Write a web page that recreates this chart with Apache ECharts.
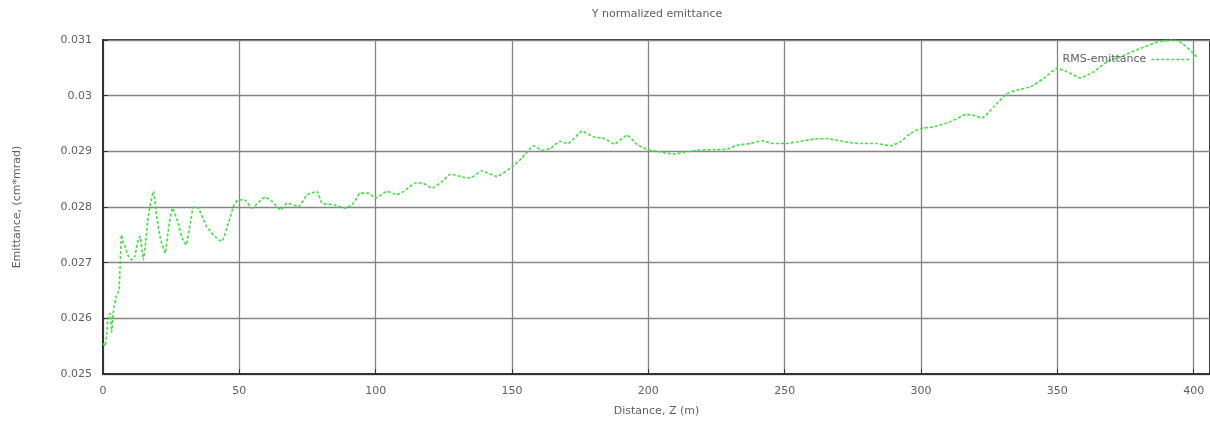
<!DOCTYPE html>
<html>
<head>
<meta charset="utf-8">
<script src="https://cdn.jsdelivr.net/npm/echarts@6/dist/echarts.min.js"></script>
<style>
html,body{margin:0;padding:0;background:#fff;}
#chart{width:1210px;height:423px;}
</style>
</head>
<body>
<div id="chart"></div>
<script>
const titleText = 'Y normalized emittance';
const seriesName = 'RMS-emittance';
const xName = 'Distance, Z (m)';
const yName = 'Emittance, (cm*mrad)';

const distance = [
  0, 0.7, 1.3, 1.9, 2.6, 3.2, 3.8, 4.9, 5.9, 6.8, 7.5, 8.1, 9.3, 10.5, 11.7, 12.9, 13.6, 14.8, 15.7, 16.6,
  18.5, 19.7, 21.0, 22.8, 24.0, 25.5, 27.6, 29.0, 30.5, 32.0, 33.2, 35.0, 38.0, 41.1, 43.5, 46.0, 47.8, 49.6,
  52.2, 54.7, 57.0, 59.5, 62.0, 65.2, 67.5, 71.8, 74.8, 78.5, 80.3, 84.6, 88.9, 91.9, 94.4, 97.4, 99.9,
  104.2, 107.8, 110.3, 114.6, 117.0, 120.7, 124.4, 127.4, 131.7, 134.7, 139.0, 144.5, 150.0, 153.7, 158.0,
  161.0, 164.1, 167.5, 170.5, 175.7, 180.0, 184.0, 187.6, 192.2, 196.0, 199.8, 204.5, 209.5, 213.0, 218.0,
  224.0, 229.0, 232.6, 237.5, 241.7, 246.0, 250.3, 254.6, 260.7, 265.6, 269.3, 273.5, 277.8, 283.9, 288.8,
  292.5, 296.1, 299.8, 304.7, 310.8, 316.5, 319.0, 322.4, 326.7, 331.6, 335.3, 340.2, 345.0, 350.0, 353.6,
  358.5, 363.4, 368.3, 373.2, 380.5, 387.9, 392.8, 395.8, 400.0, 401.5
];
const emittance = [
  0.02555, 0.02550, 0.02567, 0.02600, 0.02609, 0.02575, 0.02612, 0.02640, 0.02651, 0.02750, 0.02735, 0.02729, 0.02712, 0.02705, 0.02712, 0.02741, 0.02747, 0.02705, 0.02740, 0.02783,
  0.02828, 0.02783, 0.02745, 0.02717, 0.02760, 0.02798, 0.02771, 0.02745, 0.02732, 0.02770, 0.02800, 0.02798, 0.02765, 0.02747, 0.02738, 0.02771, 0.02800, 0.02813,
  0.02812, 0.02798, 0.02808, 0.02818, 0.02810, 0.02795, 0.02807, 0.02801, 0.02822, 0.02828, 0.02807, 0.02804, 0.02798, 0.02807, 0.02825, 0.02825, 0.02816,
  0.02828, 0.02822, 0.02828, 0.02843, 0.02843, 0.02834, 0.02846, 0.02859, 0.02854, 0.02852, 0.02865, 0.02855, 0.02872, 0.02888, 0.02910,
  0.02902, 0.02905, 0.02918, 0.02914, 0.02936, 0.02926, 0.02923, 0.02913, 0.02929, 0.02912, 0.02903, 0.02899, 0.02895, 0.02898, 0.02902,
  0.02903, 0.02904, 0.02911, 0.02914, 0.02919, 0.02914, 0.02914, 0.02917, 0.02922, 0.02923, 0.02920, 0.02916, 0.02914, 0.02914, 0.02910,
  0.02917, 0.02932, 0.02941, 0.02944, 0.02953, 0.02966, 0.02965, 0.02960, 0.02980, 0.03004, 0.03010, 0.03016, 0.03031, 0.03049, 0.03043,
  0.03032, 0.03043, 0.03061, 0.03070, 0.03085, 0.03098, 0.03100, 0.03094, 0.03076, 0.03067
];

const points = distance.map((d, i) => [d, emittance[i]]);
const font = 'DejaVu Sans, Liberation Sans, sans-serif';
const txt = '#606060';
const green = '#3ee23e';

const chart = echarts.init(document.getElementById('chart'), null, {renderer: 'canvas'});
chart.setOption({
  animation: false,
  backgroundColor: '#fff',
  title: {
    text: titleText, left: 652, top: 4, textAlign: 'center',
    textStyle: {fontFamily: font, fontSize: 11, fontWeight: 'normal', color: txt}
  },
  legend: {
    right: 15, top: 49, align: 'right', itemWidth: 38, itemHeight: 8, itemGap: 4,
    textStyle: {fontFamily: font, fontSize: 11, color: txt},
    itemStyle: {opacity: 0},
    lineStyle: {color: green, width: 1.3, type: [3, 2]},
    data: [seriesName]
  },
  grid: {
    left: 103, right: 0, top: 40, bottom: 49,
    show: true, borderColor: '#333', borderWidth: 2, backgroundColor: 'transparent'
  },
  xAxis: {
    type: 'value', min: 0, max: 406, interval: 50,
    name: xName, nameLocation: 'middle', nameGap: 32,
    nameTextStyle: {fontFamily: font, fontSize: 11, color: txt},
    axisLine: {show: true, lineStyle: {color: '#333', width: 2}},
    axisTick: {show: true, inside: true, length: 5, lineStyle: {color: '#333'}},
    axisLabel: {
      fontFamily: font, fontSize: 11, color: txt, margin: 12, showMaxLabel: false,
      formatter: v => v > 400 ? '' : String(v)
    },
    splitLine: {show: true, lineStyle: {color: '#858585', width: 1.3}}
  },
  yAxis: {
    type: 'value', min: 0.025, max: 0.031, interval: 0.001,
    name: yName, nameLocation: 'middle', nameGap: 80, nameRotate: 90,
    nameTextStyle: {fontFamily: font, fontSize: 11, color: txt},
    axisLine: {show: true, lineStyle: {color: '#333', width: 2}},
    axisTick: {show: true, inside: true, length: 5, lineStyle: {color: '#333'}},
    axisLabel: {fontFamily: font, fontSize: 11, color: txt, margin: 11},
    splitLine: {show: true, lineStyle: {color: '#858585', width: 1.3}}
  },
  series: [{
    name: seriesName, type: 'line', data: points, showSymbol: false, symbol: 'none',
    smooth: 0.15, clip: true,
    lineStyle: {color: green, width: 1.6, type: [3, 2]},
    itemStyle: {color: green}
  }]
});
</script>
</body>
</html>
